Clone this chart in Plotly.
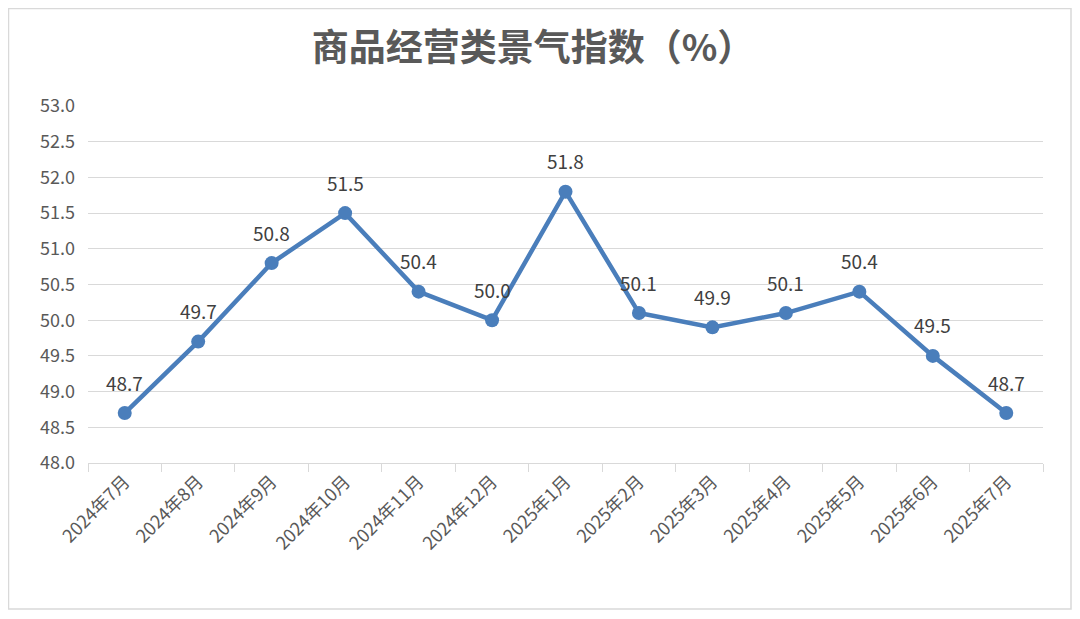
import plotly.graph_objects as go

categories = ["2024年7月", "2024年8月", "2024年9月", "2024年10月", "2024年11月", "2024年12月",
              "2025年1月", "2025年2月", "2025年3月", "2025年4月", "2025年5月", "2025年6月", "2025年7月"]
values = [48.7, 49.7, 50.8, 51.5, 50.4, 50.0, 51.8, 50.1, 49.9, 50.1, 50.4, 49.5, 48.7]
y_ticks = [48.0, 48.5, 49.0, 49.5, 50.0, 50.5, 51.0, 51.5, 52.0, 52.5, 53.0]

FONT = "Noto Sans CJK SC"
# page has an 8px body margin, so the figure is drawn at (8, 8)
W, H = 1064, 603
L, R, T, B = 80, 29, 98, 148
pw, ph = W - L - R, H - T - B

fig = go.Figure()
fig.add_trace(go.Scatter(
    x=categories, y=values, mode="lines+markers",
    line=dict(color="#4a7ebb", width=4.5),
    marker=dict(color="#4a7ebb", size=14),
    cliponaxis=False,
    hoverinfo="skip",
))

for c, v in zip(categories, values):
    fig.add_annotation(x=c, y=v, text=f"{v:.1f}", showarrow=False,
                       yshift=31, font=dict(family=FONT, size=19, color="#404040"))

def px_x(p):
    return (p - L) / pw

def px_y(p):
    return (H - B - p) / ph

fig.add_shape(type="rect", xref="paper", yref="paper",
              x0=px_x(0.5), x1=px_x(1063), y0=px_y(601), y1=px_y(0.5),
              line=dict(color="#d9d9d9", width=1.5), layer="below")

fig.update_layout(
    width=W, height=H,
    margin=dict(l=L, r=R, t=T, b=B),
    paper_bgcolor="white", plot_bgcolor="white",
    showlegend=False,
    title=dict(text="<b>商品经营类景气指数（%）</b>", x=(533 - 8) / W, xanchor="center",
               y=1 - 40 / H, yanchor="middle", yref="container",
               font=dict(family=FONT, size=37, color="#595959")),
    font=dict(family=FONT, color="#595959"),
)
fig.update_xaxes(
    type="category", range=[-0.5, 12.5],
    showgrid=False, showline=True, linecolor="#d9d9d9", linewidth=1,
    ticks="outside", ticklen=8, tickcolor="#d9d9d9", tickson="boundaries",
    tickangle=-45, tickfont=dict(family=FONT, size=18, color="#595959"),
    zeroline=False, fixedrange=True,
)
fig.update_yaxes(
    range=[48.0, 53.0], tickvals=y_ticks, ticktext=[f"{v:.1f}" for v in y_ticks],
    showgrid=True, gridcolor="#d9d9d9", gridwidth=1,
    showline=False, zeroline=False, ticks="",
    tickfont=dict(family=FONT, size=18, color="#595959"),
    ticklabelstandoff=12, fixedrange=True,
)

fig.write_html("out.html")
